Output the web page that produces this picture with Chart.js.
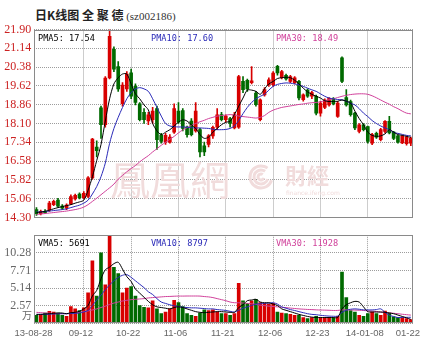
<!DOCTYPE html>
<html>
<head>
<meta charset="utf-8">
<title>全聚德 日K线图</title>
<script src="https://cdn.jsdelivr.net/npm/chart.js"></script>
<style>
  body { margin: 0; background: #fff; width: 445px; height: 351px; overflow: hidden; position: relative; }
  #title { position: absolute; left: 35px; top: 6px; font: bold 12px "Noto Sans CJK SC"; color: #222; white-space: pre; }
  #title span { font: 11px "Liberation Serif"; color: #333; }
  .box { position: absolute; left: 0; width: 445px; }
</style>
</head>
<body>
<div id="title">日K线图 全 聚 德 <span>(sz002186)</span></div>
<div class="box" style="top:0;height:230px"><canvas id="kline"></canvas></div>
<div class="box" style="top:225px;height:126px"><canvas id="vol"></canvas></div>

<script>
// daily candles, 13-08-28 .. 14-01-22 (88 trading days)
var tickIdx  = [0, 11, 22, 33, 44, 55, 66, 77, 87];
var tickText = ['13-08-28', '09-12', '10-22', '11-06', '11-21', '12-06', '12-23', '14-01-08', '01-22'];

var open = [14.62,14.45,14.55,14.60,14.82,15.00,14.76,14.68,14.85,15.05,15.25,15.10,15.15,15.90,17.15,18.73,18.05,19.94,21.10,20.40,
  18.90,19.50,20.15,19.60,18.90,18.55,18.20,18.25,18.70,17.62,17.35,17.35,17.75,18.60,18.62,17.95,18.20,17.80,17.85,17.20,
  17.25,17.60,17.95,18.46,18.25,18.30,17.92,17.95,19.80,19.85,19.75,19.33,18.25,19.26,19.67,19.67,20.41,19.95,20.05,19.80,
  19.75,19.80,19.06,19.45,19.20,19.20,18.52,18.75,18.85,19.10,18.39,20.75,19.15,18.99,18.52,17.78,18.05,17.98,17.30,17.70,
  17.45,17.78,18.19,17.75,17.60,17.31,17.28,17.30];
var high = [14.70,14.60,14.62,14.95,15.00,15.08,14.82,14.85,15.22,15.25,15.30,15.35,15.95,17.50,17.40,18.80,20.00,21.90,21.20,20.60,
  19.75,20.20,20.30,19.70,18.95,18.70,18.55,18.75,18.80,17.70,17.70,17.65,18.90,18.95,18.70,18.00,18.30,18.95,17.90,17.35,
  17.65,18.00,18.70,18.55,18.45,18.35,18.55,20.05,20.00,19.90,20.40,19.40,19.10,19.55,19.95,20.20,20.45,20.25,20.10,20.05,
  20.00,19.85,19.30,19.50,19.40,19.25,19.00,19.10,19.15,19.15,19.00,20.80,19.47,19.05,18.55,18.10,18.10,18.00,17.70,17.75,
  17.90,18.22,18.39,17.78,17.62,17.62,17.60,17.55];
var low = [14.38,14.40,14.45,14.55,14.78,14.72,14.62,14.62,14.82,15.00,15.05,15.05,15.10,15.85,16.75,17.50,17.95,19.90,20.20,19.40,
  18.80,19.40,19.10,18.85,18.20,18.10,18.05,18.10,17.05,17.30,17.25,17.30,17.70,18.10,17.80,17.55,17.60,17.75,16.75,16.80,
  17.15,17.50,17.85,18.20,18.15,17.95,17.88,17.90,19.35,19.40,19.70,18.80,18.20,19.20,19.60,19.60,20.05,19.90,19.85,19.75,
  19.70,19.05,19.00,19.15,19.10,18.45,18.40,18.70,18.80,18.85,18.35,19.75,18.80,18.40,17.85,17.72,17.80,17.30,17.24,17.50,
  17.40,17.72,17.68,17.45,17.30,17.28,17.22,17.20];
var close = [14.45,14.55,14.50,14.88,14.95,14.76,14.68,14.80,15.15,15.20,15.10,15.28,15.90,17.47,17.00,18.05,19.94,21.62,20.30,19.50,
  19.65,20.10,19.20,18.95,18.25,18.25,18.45,18.60,17.45,17.38,17.62,17.55,18.70,18.15,17.90,17.65,17.65,18.60,16.95,16.95,
  17.60,17.95,18.45,18.25,18.40,18.10,18.46,20.00,19.47,19.50,19.82,18.86,19.06,19.47,19.87,20.14,20.14,20.20,19.90,20.00,
  19.95,19.13,19.26,19.20,19.35,18.52,18.93,19.05,19.12,18.90,18.93,19.80,18.85,18.46,17.92,18.05,17.85,17.38,17.65,17.55,
  17.85,18.19,17.72,17.50,17.35,17.58,17.55,17.50];

var pma5 = [14.50,14.52,14.55,14.60,14.65,14.70,14.74,14.78,14.82,14.88,14.93,15.00,15.40,15.95,16.60,17.25,18.20,19.10,19.70,19.95,
  20.10,20.10,19.70,19.30,19.10,18.85,18.65,18.10,17.80,17.65,17.75,17.85,18.00,18.15,18.25,18.20,18.05,17.90,17.65,17.50,
  17.55,17.75,17.90,18.05,18.15,18.19,18.46,18.80,19.13,19.45,19.45,19.40,19.28,19.50,19.70,19.80,19.92,19.95,19.97,19.95,
  19.85,19.70,19.53,19.38,19.28,19.20,19.13,19.02,18.99,18.99,19.00,19.05,19.00,18.93,18.60,18.30,18.05,17.75,17.62,17.58,
  17.60,17.68,17.85,17.75,17.65,17.62,17.58,17.54];
var pma10 = [14.52,14.53,14.54,14.56,14.58,14.60,14.62,14.65,14.70,14.75,14.80,14.88,15.00,15.25,15.55,15.95,16.50,17.30,17.90,18.35,
  18.75,19.10,19.35,19.50,19.55,19.50,19.40,19.10,18.75,18.40,18.10,18.00,17.97,17.96,17.96,17.95,17.93,17.92,17.92,17.91,
  17.90,17.87,17.85,17.85,17.86,17.90,18.00,18.22,18.50,18.75,18.95,19.10,19.20,19.28,19.45,19.60,19.68,19.72,19.74,19.73,
  19.70,19.66,19.60,19.53,19.46,19.40,19.30,19.20,19.13,19.10,19.07,19.06,19.00,18.92,18.85,18.70,18.52,18.38,18.22,18.10,
  18.00,17.92,17.85,17.74,17.70,17.66,17.62,17.60];
var pma30 = [14.42,14.44,14.46,14.48,14.50,14.52,14.54,14.56,14.59,14.62,14.66,14.72,14.82,14.95,15.08,15.22,15.36,15.50,15.65,15.85,
  16.00,16.15,16.28,16.40,16.55,16.68,16.80,16.95,17.08,17.22,17.34,17.46,17.58,17.72,17.84,17.93,18.02,18.10,18.17,18.23,
  18.30,18.35,18.40,18.42,18.44,18.46,18.44,18.40,18.38,18.36,18.34,18.32,18.35,18.42,18.55,18.64,18.70,18.75,18.78,18.81,
  18.84,18.87,18.89,18.92,18.94,18.95,18.98,19.02,19.06,19.10,19.15,19.20,19.24,19.27,19.29,19.30,19.30,19.28,19.22,19.14,
  19.05,18.96,18.88,18.78,18.70,18.60,18.52,18.49];

// volume in 万手
var vol = [1.17,1.17,1.50,1.73,1.64,1.50,1.17,1.03,2.43,2.10,1.87,2.24,4.44,9.11,3.97,10.28,5.61,13.50,8.18,7.24,
  4.44,5.14,5.37,3.97,2.57,2.34,2.24,3.27,2.10,1.40,1.64,2.10,3.36,3.04,2.43,1.40,1.17,1.03,1.50,1.96,
  1.87,1.96,1.64,1.40,1.40,1.17,1.40,5.84,3.27,2.90,3.27,3.50,3.04,2.90,2.80,2.90,1.64,1.50,1.40,1.30,
  1.17,1.17,0.84,0.70,0.84,1.03,0.84,0.84,0.84,0.84,1.03,7.48,3.74,1.87,1.64,1.17,1.03,1.40,1.64,1.40,
  1.17,1.78,1.50,0.93,0.84,0.84,0.70,0.56];
var vma5 = [1.30,1.30,1.35,1.40,1.45,1.50,1.50,1.40,1.55,1.60,1.75,2.10,2.60,4.00,4.80,6.50,7.80,8.20,8.70,8.90,
  7.90,6.80,6.10,5.00,4.40,3.80,3.20,2.70,2.40,2.30,2.20,2.10,2.30,2.40,2.30,2.10,1.90,1.70,1.60,1.55,
  1.60,1.65,1.70,1.70,1.65,1.60,1.60,2.30,2.70,3.30,3.40,3.50,3.10,3.00,3.00,2.80,2.60,2.10,1.90,1.70,
  1.50,1.30,1.15,1.00,0.90,0.85,0.84,0.84,0.84,0.84,0.85,2.10,2.70,3.00,3.20,3.10,2.40,1.70,1.65,1.65,
  1.64,1.60,1.50,1.40,1.20,1.00,0.80,0.5691];
var vma10 = [1.30,1.30,1.30,1.32,1.35,1.38,1.40,1.40,1.42,1.45,1.50,1.65,1.87,2.60,3.40,4.10,4.90,5.60,6.20,6.70,
  7.00,7.10,6.70,6.20,5.70,5.20,4.60,4.20,3.60,3.10,2.90,2.70,2.55,2.45,2.35,2.30,2.25,2.25,2.20,2.15,
  2.10,2.10,2.00,1.95,1.87,1.75,1.64,1.90,2.20,2.40,2.60,2.80,2.85,2.90,2.95,3.00,2.80,2.40,2.20,2.00,
  1.87,1.70,1.55,1.40,1.30,1.25,1.17,1.10,1.05,1.03,1.05,1.60,1.90,2.05,2.10,2.05,1.96,1.95,1.95,2.00,
  2.10,1.60,1.17,1.00,0.84,0.86,0.87,0.8797];
var vma30 = [1.60,1.55,1.50,1.48,1.45,1.42,1.40,1.40,1.45,1.50,1.60,1.70,1.80,1.95,2.10,2.30,2.50,2.75,2.95,3.10,
  3.25,3.35,3.45,3.50,3.55,3.60,3.70,3.75,3.80,3.85,3.90,3.92,3.95,3.97,3.97,3.98,3.98,3.98,3.97,3.90,
  3.85,3.75,3.60,3.45,3.30,3.10,3.00,3.00,2.95,2.90,2.85,2.75,2.65,2.57,2.50,2.45,2.40,2.34,2.28,2.22,
  2.16,2.10,2.06,2.02,2.00,1.96,1.94,1.92,1.90,1.87,1.88,1.95,1.96,1.95,1.93,1.90,1.87,1.82,1.78,1.72,
  1.64,1.58,1.52,1.46,1.40,1.32,1.26,1.1928];

var priceTicks = [14.30, 15.06, 15.82, 16.58, 17.34, 18.10, 18.86, 19.62, 20.38, 21.14, 21.90];
var volTicks = [0, 2.57, 5.14, 7.71, 10.28, 12.85];

var RED = '#d80000', GREEN = '#006a00';
var GRID = '#9c9c9c';
var days = open.map(function (v, i) { return i; });
function candleColor(c) { return close[c.dataIndex] >= open[c.dataIndex] ? RED : GREEN; }

// frame, legend texts, watermark
var panelDecor = {
  id: 'panelDecor',
  beforeDatasetsDraw: function (chart, args, opts) {
    if (!opts.watermark) return;
    var c = chart.ctx;
    c.save();
    c.fillStyle = '#f1dcdc';
    c.strokeStyle = '#f1dcdc';
    c.textBaseline = 'middle';
    c.font = '40px "Noto Sans CJK TC"';
    c.fillText('鳳凰網', 110, 180);
    c.lineWidth = 3;
    [11, 7, 3].forEach(function (r) {
      c.beginPath(); c.arc(261, 177, r, 0.3, Math.PI * 1.7); c.stroke();
    });
    c.font = 'bold 22px "Noto Sans CJK TC"';
    c.fillText('財經', 285, 176);
    c.font = '6px "DejaVu Sans"';
    c.fillText('finance.ifeng.com', 286, 193);
    c.restore();
  },
  afterDraw: function (chart, args, opts) {
    var a = chart.chartArea, c = chart.ctx;
    c.save();
    c.strokeStyle = '#8a8a8a';
    c.lineWidth = 1;
    c.strokeRect(Math.round(a.left) + 0.5, Math.round(a.top) + 0.5,
                 Math.round(a.right - a.left) - 1, Math.round(a.bottom - a.top) - 1);
    c.font = '8.6px "DejaVu Sans Mono"';
    c.textBaseline = 'middle';
    opts.items.forEach(function (it) {
      c.fillStyle = it.color;
      c.fillText(it.text, it.x, a.top + 9);
    });
    if (opts.unit) {
      // unit label sits between the 0 and 2.57 ticks
      c.fillStyle = '#666';
      c.font = '10px "Noto Sans CJK SC"';
      c.textAlign = 'right';
      c.fillText(opts.unit, 32, a.bottom - 8);
    }
    c.restore();
  }
};

function xGrid(ctx) {
  return (ctx.index > 0 && ctx.index % 11 === 0) ? GRID : 'rgba(0,0,0,0)';
}

function maLine(data, color) {
  return { type: 'line', data: data, borderColor: color, borderWidth: 1, pointRadius: 0,
           tension: 0.3, order: 0 };
}

new Chart(document.getElementById('kline'), {
  type: 'bar',
  data: {
    labels: days,
    datasets: [
      maLine(pma5, '#000000'),
      maLine(pma10, '#2a2ab8'),
      maLine(pma30, '#d0409a'),
      { data: days.map(function (i) { return [low[i], high[i]]; }), backgroundColor: candleColor,
        barThickness: 1, grouped: false, order: 2 },
      { data: days.map(function (i) { return [open[i], close[i]]; }), backgroundColor: candleColor,
        barThickness: 3, minBarLength: 1, grouped: false, order: 1 }
    ]
  },
  options: {
    responsive: true, maintainAspectRatio: false, animation: false,
    layout: { padding: { top: 29.5, right: 32, bottom: 12.5, left: 0 } },
    plugins: {
      legend: { display: false }, tooltip: { enabled: false },
      panelDecor: {
        watermark: true,
        items: [
          { text: 'PMA5: 17.54', x: 38, color: '#000' },
          { text: 'PMA10: 17.60', x: 151, color: '#2a2ab8' },
          { text: 'PMA30: 18.49', x: 276, color: '#d0409a' }
        ]
      }
    },
    scales: {
      x: {
        offset: true,
        ticks: { display: false },
        grid: { offset: false, drawTicks: false, color: xGrid },
        border: { display: false, dash: [1, 1] },
        afterFit: function (s) { s.height = 0; }
      },
      y: {
        min: 14.30, max: 21.90,
        afterBuildTicks: function (s) { s.ticks = priceTicks.map(function (v) { return { value: v }; }); },
        afterFit: function (s) { s.width = 34.3; },
        ticks: { color: '#cc2222', font: { family: 'Liberation Serif', size: 12 }, padding: 3,
                 callback: function (v) { return v.toFixed(2); } },
        grid: { drawTicks: false, color: GRID },
        border: { display: false, dash: [1, 1] }
      }
    }
  },
  plugins: [panelDecor]
});

new Chart(document.getElementById('vol'), {
  type: 'bar',
  data: {
    labels: days,
    datasets: [
      maLine(vma5, '#000000'),
      maLine(vma10, '#2a2ab8'),
      maLine(vma30, '#d0409a'),
      { data: vol, backgroundColor: candleColor, barThickness: 3, order: 1 }
    ]
  },
  options: {
    responsive: true, maintainAspectRatio: false, animation: false,
    layout: { padding: { top: 6.7, right: 32, bottom: 0, left: 0 } },
    plugins: {
      legend: { display: false }, tooltip: { enabled: false },
      panelDecor: {
        unit: '万',
        items: [
          { text: 'VMA5: ' + Math.round(vma5[87] * 10000), x: 38, color: '#000' },
          { text: 'VMA10: ' + Math.round(vma10[87] * 10000), x: 151, color: '#2a2ab8' },
          { text: 'VMA30: ' + Math.round(vma30[87] * 10000), x: 276, color: '#d0409a' }
        ]
      }
    },
    scales: {
      x: {
        offset: true,
        afterFit: function (s) { s.height = 27.7; },
        ticks: {
          autoSkip: false, maxRotation: 0, color: '#666', padding: 4, labelOffset: -3,
          font: { family: 'Liberation Sans', size: 9.5 },
          callback: function (v, i) { var k = tickIdx.indexOf(i); return k < 0 ? '' : tickText[k]; }
        },
        grid: { offset: false, drawTicks: false, color: xGrid },
        border: { display: false, dash: [1, 1] }
      },
      y: {
        min: 0, max: 12.85,
        afterBuildTicks: function (s) { s.ticks = volTicks.map(function (v) { return { value: v }; }); },
        afterFit: function (s) { s.width = 34.3; },
        ticks: { color: '#666', font: { family: 'Liberation Serif', size: 12 }, padding: 3,
                 callback: function (v) { return (v === 0 || v === 12.85) ? '' : v.toFixed(2); } },
        grid: { drawTicks: false, color: GRID },
        border: { display: false, dash: [1, 1] }
      }
    }
  },
  plugins: [panelDecor]
});
</script>
</body>
</html>
